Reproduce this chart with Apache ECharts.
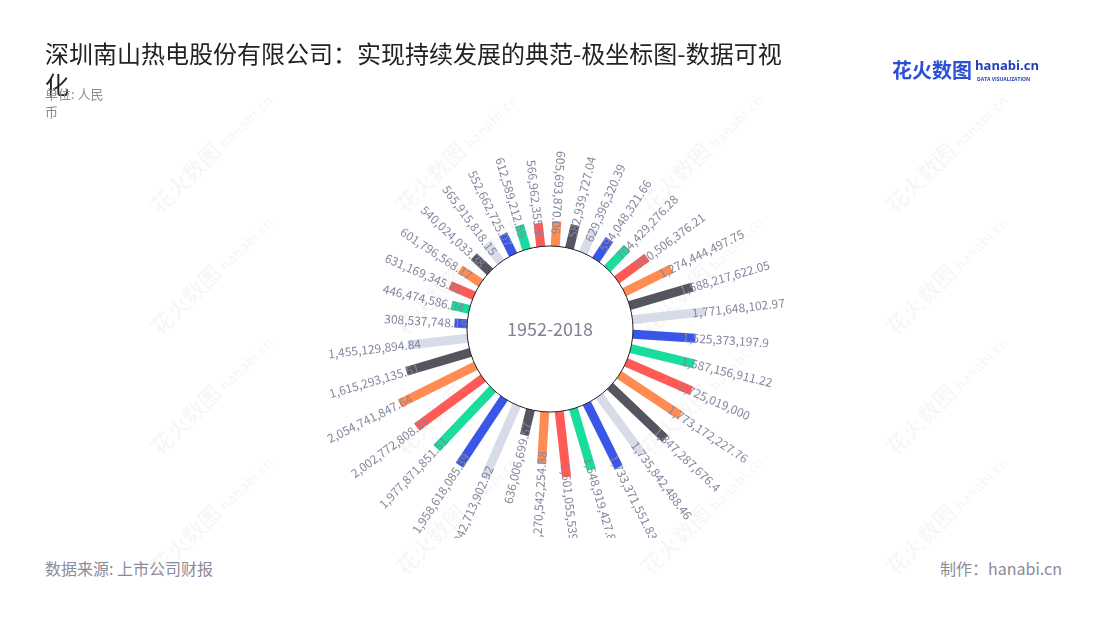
<!DOCTYPE html>
<html>
<head>
<meta charset="utf-8">
<script src="https://cdn.jsdelivr.net/npm/echarts@6/dist/echarts.min.js"></script>
<style>
  html, body { margin: 0; padding: 0; background: #fff; width: 1100px; height: 620px; overflow: hidden; }
  #wm { position: absolute; left: 0; top: 0; width: 1100px; height: 620px; z-index: 0; }
  .wm { position: absolute; transform: rotate(-45deg); transform-origin: center; color: rgba(0,0,0,0.04);
        font-family: "Noto Sans CJK SC", sans-serif; font-weight: bold; white-space: nowrap; line-height: 1; }
  .wm .a { font-size: 22px; }
  .wm .b { font-size: 14px; margin-left: 4px; }
  #chart { position: absolute; left: 0; top: 0; width: 1100px; height: 538px; z-index: 1; }
  .foot { position: absolute; top: 556px; font-family: "Noto Sans CJK SC", sans-serif; font-size: 16px; color: #8a8b9a; z-index: 2; }
</style>
</head>
<body>
<div id="wm"></div>
<div id="chart"></div>
<div class="foot" style="left:45px;">数据来源: 上市公司财报</div>
<div class="foot" style="right:38px;">制作：hanabi.cn</div>
<script>
// ---- data ----
const categories = ['1983','1984','1985','1986','1987','1988','1989','1990','1991','1992','1993','1994',
  '1995','1996','1997','1998','1999','2000','2001','2002','2003','2004','2005','2006',
  '2007','2008','2009','2010','2011','2012','2013','2014','2015','2016','2017','2018'];
const values = [
  605693870.06, 582939727.04, 629396320.39, 594048321.66, 704429276.28, 910506376.21,
  1274444497.75, 1588217622.05, 1771648102.97, 1525373197.9, 1587156911.22, 1725019000,
  1773172227.76, 1847287676.4, 1735842488.46, 1733371551.83, 1548919427.8, 1601055539.8,
  1270542254.88, 636006699.57, 1942713902.92, 1958618085.39, 1977871851.51, 2002772808.24,
  2054741847.64, 1615293135.51, 1455129894.84, 308537748.19, 446474586.34, 631169345.43,
  601796568.17, 540024033.38, 565915818.15, 552662725.07, 612589212.59, 566962355.9
];
const centerLabel = '1952-2018';
const titleText = '深圳南山热电股份有限公司：实现持续发展的典范-极坐标图-数据可视化';
const unitText = '单位: 人民币';

// ---- styles ----
const palette = ['#ff8c52', '#54555f', '#d8dce8', '#3a56e8', '#18dd9c', '#ff5a55'];
const labelColor = '#85879d';
const FONT = '"Noto Sans CJK SC", "Noto Sans", sans-serif';

// watermarks
(function () {
  const wm = document.getElementById('wm');
  const xs = [130, 375, 620, 865];
  const ys = [140, 262, 382, 502];
  ys.forEach(y => xs.forEach(x => {
    const d = document.createElement('div');
    d.className = 'wm';
    d.style.left = x + 'px';
    d.style.top = y + 'px';
    d.innerHTML = '<span class="a">花火数图</span><span class="b">hanabi.cn</span>';
    wm.appendChild(d);
  }));
})();

const fmt = v => v.toLocaleString('en-US', { maximumFractionDigits: 2 });

const chart = echarts.init(document.getElementById('chart'), null, { renderer: 'canvas' });

const option = {
  backgroundColor: 'transparent',
  animation: false,
  title: [
    {
      text: titleText, left: 45, top: 38, padding: 0,
      textStyle: { fontFamily: FONT, fontSize: 24, fontWeight: 'normal', color: '#222',
                   width: 750, overflow: 'breakAll', lineHeight: 31 }
    },
    {
      text: unitText, left: 45, top: 85, padding: 0,
      textStyle: { fontFamily: FONT, fontSize: 13, fontWeight: 'normal', color: '#8a8b9a',
                   width: 70, overflow: 'breakAll', lineHeight: 18 }
    }
  ],
  graphic: [
    { type: 'text', left: 892, top: 60, style: { text: '花火数图', font: 'bold 20px ' + FONT, fill: '#2c4fd6' } },
    { type: 'text', left: 975, top: 60, style: { text: 'hanabi.cn', font: 'bold 13px "Open Sans", sans-serif', fill: '#1f3fb5' } },
    { type: 'text', left: 977, top: 77, style: { text: 'DATA VISUALIZATION', font: 'bold 5px "Open Sans", sans-serif', fill: '#1f3fb5' } }
  ],
  polar: { center: ['50%', 329], radius: [83, 186] },
  angleAxis: { type: 'category', data: categories, startAngle: 91.4, clockwise: true, show: false,
               axisLine: { show: false }, axisLabel: { show: false }, axisTick: { show: false }, splitLine: { show: false } },
  radiusAxis: { type: 'value', min: 0, max: 2500000000, show: false,
                axisLine: { show: false }, axisLabel: { show: false }, axisTick: { show: false }, splitLine: { show: false } },
  series: [
    {
      type: 'custom',
      coordinateSystem: 'polar',
      silent: true,
      z: 2,
      data: values.map((v, i) => [v, i]),
      renderItem: function (params, api) {
        const v = api.value(0);
        const i = api.value(1);
        const p0 = api.coord([0, i]);
        const p1 = api.coord([v, i]);
        const dx = p1[0] - p0[0], dy = p1[1] - p0[1];
        const len = Math.sqrt(dx * dx + dy * dy) || 1;
        const ux = dx / len, uy = dy / len;
        const ang = Math.atan2(-uy, ux);
        const deg = ang * 180 / Math.PI;
        const outward = deg > -90 && deg < 84;
        const ax = p1[0] - ux * 13, ay = p1[1] - uy * 13;
        return {
          type: 'group',
          children: [
            {
              type: 'line',
              shape: { x1: p0[0] - ux * 3, y1: p0[1] - uy * 3, x2: p1[0], y2: p1[1] },
              style: { stroke: palette[i % palette.length], lineWidth: 9, lineCap: 'butt' }
            },
            {
              type: 'text',
              x: ax, y: ay,
              rotation: outward ? ang : ang + Math.PI,
              z2: 10,
              style: {
                text: fmt(v),
                align: outward ? 'left' : 'right',
                verticalAlign: 'middle',
                fill: labelColor,
                font: '12px ' + FONT
              }
            }
          ]
        };
      }
    },
    {
      type: 'pie',
      center: ['50%', 329],
      radius: [0, 83],
      silent: true,
      z: 5,
      label: { show: true, position: 'center', formatter: centerLabel,
               fontFamily: FONT, fontSize: 18, color: '#7f8194' },
      labelLine: { show: false },
      itemStyle: { color: '#ffffff', borderColor: '#222', borderWidth: 1 },
      emphasis: { disabled: true },
      data: [{ value: 1, name: centerLabel }]
    }
  ]
};
chart.setOption(option);
</script>
</body>
</html>
